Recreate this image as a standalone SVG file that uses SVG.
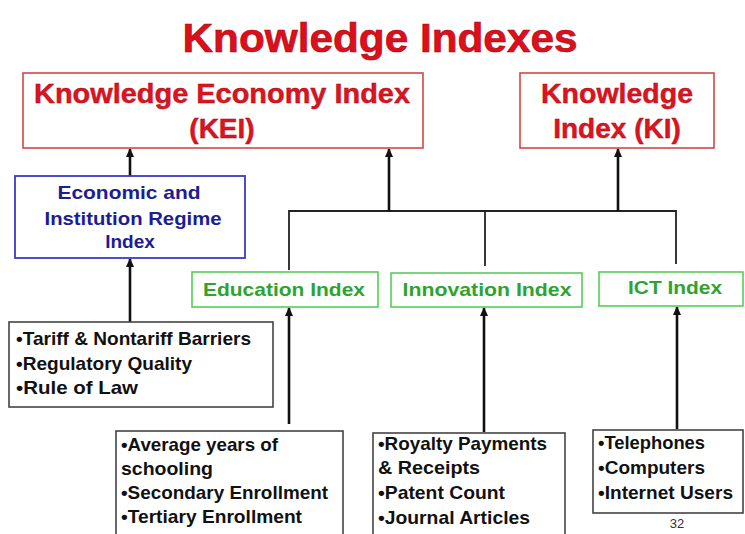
<svg xmlns="http://www.w3.org/2000/svg" width="745" height="534" viewBox="0 0 745 534">
<defs>
<marker id="ah" markerUnits="userSpaceOnUse" markerWidth="9" markerHeight="8" refX="8" refY="4" orient="auto">
<path d="M0,0 L9,4 L0,8 z" fill="#111"/>
</marker>
<style>
text{font-family:"Liberation Sans",Arial,sans-serif;font-weight:bold}
.title{fill:#dc0f1b;font-size:41px;stroke:#b00010;stroke-width:0.6}
.red{fill:#dc1420;font-size:28px;stroke:#b00010;stroke-width:0.4}
.rbox{fill:#fff;stroke:#d24848;stroke-width:1.6}
.bbox{fill:#fff;stroke:#3a3ac8;stroke-width:1.8}
.blue{fill:#1c1c96;font-size:19px}
.gbox{fill:#fff;stroke:#58cc58;stroke-width:1.6}
.green{fill:#2ea42e;font-size:19px}
.kbox{fill:#fff;stroke:#444;stroke-width:1.6}
.list{fill:#111;font-size:19px}
.arrow{stroke:#111;stroke-width:2.6;fill:none;marker-end:url(#ah)}
.line{stroke:#222;stroke-width:1.8;fill:none}
.pg{font-weight:normal;fill:#333;font-size:13px}
</style>
</defs>
<rect width="745" height="534" fill="#fff"/>
<text class="title" x="380" y="52" text-anchor="middle" textLength="395" lengthAdjust="spacingAndGlyphs">Knowledge Indexes</text>

<g id="connectors">
<line class="arrow" x1="130" y1="176" x2="130" y2="149"/>
<line class="arrow" x1="130" y1="322" x2="130" y2="259"/>
<polyline class="line" points="289,270 289,211 676,211 676,264"/>
<line class="line" x1="485" y1="211" x2="485" y2="266"/>
<line class="arrow" x1="389" y1="211" x2="389" y2="149"/>
<line class="arrow" x1="618" y1="211" x2="618" y2="149"/>
<line class="arrow" x1="289" y1="424" x2="289" y2="308"/>
<line class="arrow" x1="484" y1="432" x2="484" y2="308"/>
<line class="arrow" x1="677" y1="429" x2="677" y2="307"/>
</g>

<g id="kei">
<rect class="rbox" x="23" y="73" width="400" height="75"/>
<text class="red" x="222" y="103" text-anchor="middle" textLength="376" lengthAdjust="spacingAndGlyphs">Knowledge Economy Index</text>
<text class="red" x="222" y="138" text-anchor="middle">(KEI)</text>
</g>

<g id="ki">
<rect class="rbox" x="520" y="73" width="194" height="75"/>
<text class="red" x="617" y="103" text-anchor="middle" textLength="152" lengthAdjust="spacingAndGlyphs">Knowledge</text>
<text class="red" x="617" y="138" text-anchor="middle">Index (KI)</text>
</g>

<g id="economic">
<rect class="bbox" x="15" y="176" width="230" height="82"/>
<text class="blue" x="129" y="199" text-anchor="middle" textLength="143" lengthAdjust="spacingAndGlyphs">Economic and</text>
<text class="blue" x="133" y="225" text-anchor="middle" textLength="177" lengthAdjust="spacingAndGlyphs">Institution Regime</text>
<text class="blue" x="130" y="248" text-anchor="middle">Index</text>
</g>

<g id="education">
<rect class="gbox" x="192" y="272" width="186" height="35"/>
<text class="green" x="284" y="296" text-anchor="middle" textLength="162" lengthAdjust="spacingAndGlyphs">Education Index</text>
</g>

<g id="innovation">
<rect class="gbox" x="391" y="273" width="191" height="34"/>
<text class="green" x="487" y="296" text-anchor="middle" textLength="169" lengthAdjust="spacingAndGlyphs">Innovation Index</text>
</g>

<g id="ict">
<rect class="gbox" x="599" y="272" width="144" height="34"/>
<text class="green" x="675" y="294" text-anchor="middle" textLength="94" lengthAdjust="spacingAndGlyphs">ICT Index</text>
</g>

<g id="tariff">
<rect class="kbox" x="9" y="322" width="264" height="85"/>
<text class="list" x="16" y="345" textLength="235" lengthAdjust="spacingAndGlyphs">•Tariff &amp; Nontariff Barriers</text>
<text class="list" x="16" y="370" textLength="176" lengthAdjust="spacingAndGlyphs">•Regulatory Quality</text>
<text class="list" x="16" y="394" textLength="122" lengthAdjust="spacingAndGlyphs">•Rule of Law</text>
</g>

<g id="edu-items">
<rect class="kbox" x="116" y="431" width="227" height="110"/>
<text class="list" x="121" y="451" textLength="157" lengthAdjust="spacingAndGlyphs">•Average years of</text>
<text class="list" x="121" y="475" textLength="92" lengthAdjust="spacingAndGlyphs">schooling</text>
<text class="list" x="121" y="499" textLength="207" lengthAdjust="spacingAndGlyphs">•Secondary Enrollment</text>
<text class="list" x="121" y="523" textLength="181" lengthAdjust="spacingAndGlyphs">•Tertiary Enrollment</text>
</g>

<g id="inno-items">
<rect class="kbox" x="373" y="433" width="192" height="110"/>
<text class="list" x="378" y="450" textLength="169" lengthAdjust="spacingAndGlyphs">•Royalty Payments</text>
<text class="list" x="378" y="474" textLength="102" lengthAdjust="spacingAndGlyphs">&amp; Receipts</text>
<text class="list" x="378" y="499" textLength="127" lengthAdjust="spacingAndGlyphs">•Patent Count</text>
<text class="list" x="378" y="524" textLength="152" lengthAdjust="spacingAndGlyphs">•Journal Articles</text>
</g>

<g id="ict-items">
<rect class="kbox" x="593" y="430" width="150" height="83"/>
<text class="list" x="598" y="449" textLength="107" lengthAdjust="spacingAndGlyphs">•Telephones</text>
<text class="list" x="598" y="474" textLength="107" lengthAdjust="spacingAndGlyphs">•Computers</text>
<text class="list" x="598" y="499" textLength="135" lengthAdjust="spacingAndGlyphs">•Internet Users</text>
<text class="pg" x="677" y="528" text-anchor="middle">32</text>
</g>
</svg>
